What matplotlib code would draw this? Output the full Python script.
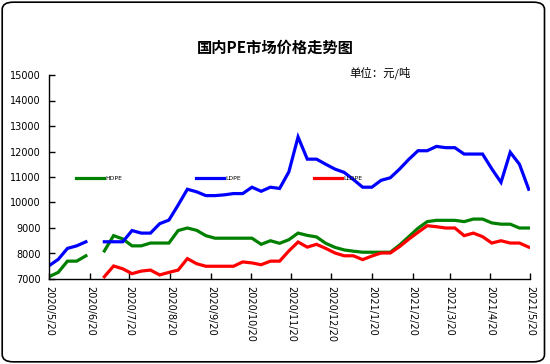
import numpy as np
import pandas as pd
import matplotlib
matplotlib.use("Agg")
import matplotlib.pyplot as plt
from matplotlib.patches import FancyBboxPatch

plt.rcParams['font.family'] = ['Noto Sans CJK SC', 'DejaVu Sans']

nan = np.nan

# weekly quotes, 2020/5/20 .. 2021/5/20
dates = pd.date_range("2020-05-20", periods=53, freq="7D")

hdpe = [7090, 7260, 7700, 7700, 7910, nan, 8100, 8700, 8570, 8300,
        8300, 8410, 8410, 8410, 8900, 9000, 8910, 8700, 8600, 8600,
        8600, 8600, 8600, 8360, 8500, 8400, 8540, 8800, 8710, 8650,
        8400, 8240, 8140, 8090, 8050, 8050, 8050, 8050, 8330, 8660,
        8990, 9250, 9300, 9300, 9300, 9250, 9350, 9350, 9200, 9150,
        9150, 9000, 9000]

ldpe = [7520, 7770, 8200, 8300, 8460, nan, 8460, 8460, 8460, 8900,
        8800, 8800, 9170, 9310, 9900, 10520, 10420, 10270, 10270, 10300,
        10350, 10350, 10600, 10440, 10600, 10550, 11200, 12570, 11700, 11700,
        11500, 11310, 11180, 10900, 10600, 10600, 10870, 10970, 11310, 11690,
        12030, 12030, 12200, 12150, 12150, 11900, 11900, 11900, 11320, 10790,
        11970, 11500, 10520]

lldpe = [nan, nan, nan, nan, nan, nan, 7090, 7510, 7400, 7210,
         7310, 7350, 7160, 7260, 7350, 7800, 7600, 7500, 7500, 7500,
         7500, 7670, 7630, 7560, 7700, 7700, 8100, 8450, 8250, 8360,
         8200, 8020, 7910, 7910, 7760, 7900, 8020, 8020, 8270, 8560,
         8830, 9090, 9050, 9000, 9000, 8700, 8800, 8660, 8410, 8500,
         8410, 8410, 8250]

series_names = ["HDPE", "LDPE", "LLDPE"]
series_colors = ["#008000", "#0000ff", "#ff0000"]

# month ticks on the 20th
tick_dates = pd.date_range("2020-05-01", "2021-05-01", freq="MS") + pd.Timedelta(days=19)
yticks = np.arange(7000, 15001, 1000)

fig = plt.figure(figsize=(5.5, 3.64), dpi=100)
ax = fig.add_axes([49 / 550, 1 - 279 / 364, 481 / 550, 204 / 364])

for vals, name, col in zip([hdpe, ldpe, lldpe], series_names, series_colors):
    ax.plot(dates, vals, color=col, lw=2.3, label=name, solid_joinstyle="miter")

ax.set_xlim(pd.Timestamp("2020-05-20"), pd.Timestamp("2021-05-20"))
ax.set_ylim(7000, 15000)
ax.set_yticks(yticks)
ax.set_xticks(tick_dates)
ax.set_xticklabels([f"{d.year}/{d.month}/{d.day}" for d in tick_dates],
                   rotation=270, fontsize=7, family="DejaVu Sans")
ax.set_yticklabels([str(v) for v in yticks], fontsize=7, family="DejaVu Sans")
ax.tick_params(direction="in", length=4, width=1, pad=6)
ax.tick_params(axis="x", pad=5)
for s in ["top", "right"]:
    ax.spines[s].set_visible(False)
for s in ["left", "bottom"]:
    ax.spines[s].set_linewidth(1)
ax.patch.set_visible(False)

leg = ax.legend(ncol=3, loc="center left", bbox_to_anchor=(0.056, 0.495),
                frameon=False, handlelength=4.6,
                handletextpad=0.2, columnspacing=12, borderpad=0,
                borderaxespad=0, prop={"family": "DejaVu Sans", "size": 4.4})

fig.text(275 / 550, 1 - 48 / 364, "国内PE市场价格走势图", ha="center", va="center",
         fontsize=11, fontweight="bold")
fig.text(349 / 550, 1 - 73 / 364, "单位：元/吨", ha="left", va="center", fontsize=8.2)

# outer frame of the chart
frame = FancyBboxPatch((0.004, 0.006), 0.986, 0.988, boxstyle="round,pad=0,rounding_size=0.02",
                       transform=fig.transFigure, fill=False, edgecolor="black", lw=1.2)
fig.patches.append(frame)

fig.savefig("out.png", dpi=100)
